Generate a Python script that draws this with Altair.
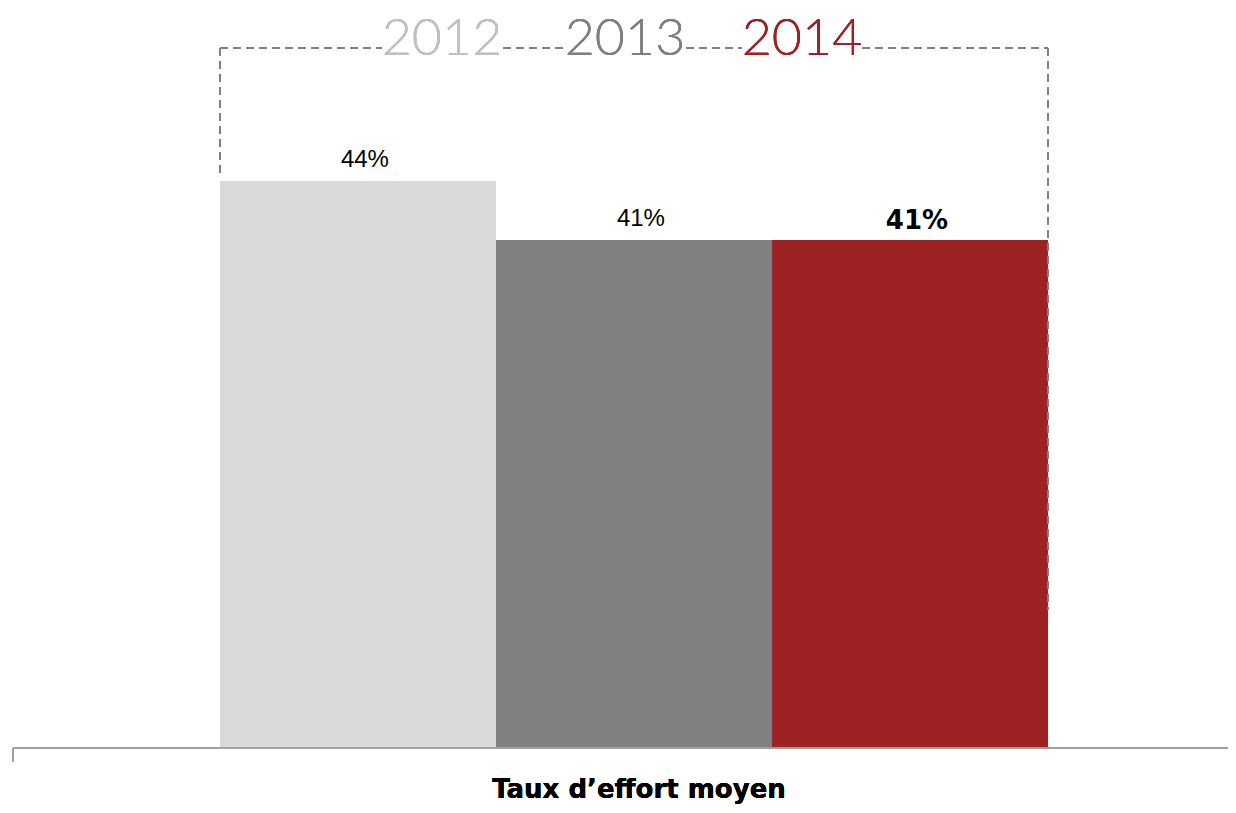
import altair as alt
import pandas as pd

# ---- data ----
years = ["2012", "2013", "2014"]
values = [44, 41, 41]
labels = ["44%", "41%", "41%"]
bar_start = [0, 1, 2]
bar_end = [1, 2, 3]
bar_colors = ["#d9d9d9", "#808080", "#9c2224"]
year_colors = ["#c0c0c0", "#7f7f7f", "#9c2224"]
title_text = "Taux d\u2019effort moyen"

df = pd.DataFrame({
    "year": years, "value": values, "label": labels,
    "start": bar_start, "end": bar_end, "color": bar_colors,
})

W, H = 1220, 797
xscale = alt.Scale(domain=[-0.768, 3.652], nice=False, zero=False)
yscale = alt.Scale(domain=[12.27, 52.80], nice=False, zero=False)

base = alt.Chart(df)

bars = base.mark_rect().encode(
    x=alt.X("start:Q", scale=xscale, axis=None),
    x2="end:Q",
    y=alt.Y("value:Q", scale=yscale, axis=None),
    y2=alt.value(740),
    color=alt.Color("color:N", scale=None, legend=None),
)

mid = alt.Chart(df).transform_calculate(mid="(datum.start + datum.end) / 2 + 0.025")

lab_norm = mid.transform_filter(alt.datum.year != "2014").mark_text(
    font="Liberation Sans", fontSize=24, color="#000000", baseline="bottom", dy=-9
).encode(
    x=alt.X("mid:Q", scale=xscale, axis=None),
    y=alt.Y("value:Q", scale=yscale, axis=None),
    text="label:N",
)
lab_bold = mid.transform_filter(alt.datum.year == "2014").mark_text(
    font="DejaVu Sans", fontSize=26, fontWeight="bold", color="#000000", baseline="bottom", dy=-6
).encode(
    x=alt.X("mid:Q", scale=xscale, axis=None),
    y=alt.Y("value:Q", scale=yscale, axis=None),
    text="label:N",
)

dash = dict(color="#808080", strokeWidth=1.5, strokeDash=[8, 5])
segs = []
for x1, x2 in [(212, 374), (495, 556), (678, 734), (854, 1040)]:
    segs.append(alt.Chart(df).mark_rule(**dash).encode(
        x=alt.value(x1), x2=alt.value(x2), y=alt.value(40)))
segs.append(alt.Chart(df).mark_rule(**dash).encode(
    x=alt.value(212), y=alt.value(40), y2=alt.value(167)))
segs.append(alt.Chart(df).mark_rule(**dash).encode(
    x=alt.value(1040), y=alt.value(40), y2=alt.value(602)))

year_x = [434, 617, 794]
year_marks = []
for yr, col, xx in zip(years, year_colors, year_x):
    year_marks.append(alt.Chart(df).mark_text(
        text=yr, font="Lato", fontWeight=300, fontSize=52, color=col,
        baseline="alphabetic", align="center"
    ).encode(x=alt.value(xx), y=alt.value(47)))

axis_line = alt.Chart(df).mark_rule(color="#a0a0a0", strokeWidth=2).encode(
    x=alt.value(5), x2=alt.value(1220), y=alt.value(740))
axis_tick = alt.Chart(df).mark_rule(color="#a0a0a0", strokeWidth=2).encode(
    x=alt.value(5), y=alt.value(740), y2=alt.value(754))

title = alt.Chart(df).mark_text(
    text=title_text, font="DejaVu Sans", fontWeight="bold", fontSize=26,
    color="#000000", align="center", baseline="alphabetic"
).encode(x=alt.value(631), y=alt.value(790))

chart = alt.layer(bars, lab_norm, lab_bold, *segs, *year_marks, axis_line, axis_tick, title).properties(
    width=W, height=H, padding=0, autosize=alt.AutoSizeParams(type="none"),
).configure_view(stroke=None)

chart.save("out.html", embed_options={"renderer": "svg", "actions": False})
